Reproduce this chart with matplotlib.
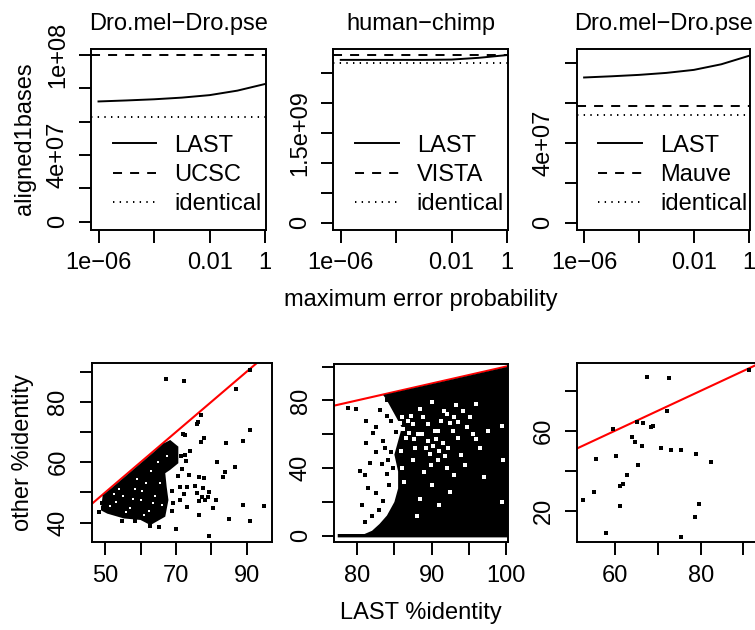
import matplotlib
matplotlib.use("Agg")
import matplotlib.pyplot as plt
from matplotlib.ticker import NullLocator

W, H = 755, 630
FS = 17

plt.rcParams.update({
    "font.family": ["Liberation Sans", "DejaVu Sans"],
    "font.size": FS,
    "lines.scale_dashes": False,
    "axes.linewidth": 1.4,
    "xtick.major.width": 1.4,
    "ytick.major.width": 1.4,
    "xtick.major.size": 9,
    "ytick.major.size": 9,
    "xtick.major.pad": 7,
    "ytick.major.pad": 7,
})

# ---- top row: aligned bases vs maximum error probability ----
err_prob = [1e-6, 1e-5, 1e-4, 1e-3, 1e-2, 1e-1, 1]

titles_top = ["Dro.mel\u2212Dro.pse", "human\u2212chimp", "Dro.mel\u2212Dro.pse"]
other_names = ["UCSC", "VISTA", "Mauve"]
last_bases = [
    [7.22e7, 7.28e7, 7.35e7, 7.45e7, 7.60e7, 7.87e7, 8.27e7],
    [2.72e9, 2.72e9, 2.72e9, 2.72e9, 2.725e9, 2.755e9, 2.80e9],
    [7.27e7, 7.33e7, 7.40e7, 7.50e7, 7.65e7, 7.93e7, 8.35e7],
]
other_bases = [1.0e8, 2.80e9, 5.85e7]
identical_bases = [6.3e7, 2.663e9, 5.39e7]

top_yticks = [
    [0, 2e7, 4e7, 6e7, 8e7, 1e8],
    [0, 5e8, 1e9, 1.5e9, 2e9, 2.5e9],
    [0, 2e7, 4e7, 6e7, 8e7],
]
top_ylabels = [
    ["0", "", "4e+07", "", "", "1e+08"],
    ["0", "", "", "1.5e+09", "", ""],
    ["0", "", "4e+07", "", ""],
]
top_ylims = [(-5e6, 1.04e8), (-1.2e8, 2.91e9), (-3.6e6, 8.72e7)]
top_xticks = [1e-6, 1e-4, 1e-2, 1]
top_xlabels = ["1e\u221206", "", "0.01", "1"]

# ---- bottom row: other %identity vs LAST %identity ----
b1_x = [67.2, 72.3, 91.0, 87.0, 77.1, 76.4, 76.1, 91.0, 88.9, 84.2, 78.0, 77.1,
        71.9, 74.0, 72.7, 81.6, 86.8, 84.0, 83.2, 71.8, 73.8, 76.6, 78.0, 71.2,
        73.1, 75.4, 77.6, 79.5, 72.3, 75.9, 77.3, 79.2, 81.4, 76.6, 78.2, 69.3,
        71.2, 73.1, 80.6, 76.6, 89.1, 95.0, 85.1, 91.0, 70.0, 79.5, 65.1, 54.7,
        48.4, 72.6, 49.2, 49.5, 69.0, 68.8, 70.6, 69.5, 62.8, 58.5, 71.5, 72.8]
b1_y = [87.5, 87.0, 90.6, 84.2, 75.7, 73.4, 72.7, 70.7, 67.2, 66.3, 67.9, 66.8,
        69.4, 63.8, 62.4, 60.2, 58.5, 56.9, 55.0, 57.7, 55.8, 55.2, 54.7, 51.9,
        51.9, 52.2, 51.4, 50.3, 49.5, 49.7, 48.6, 48.6, 47.5, 47.2, 47.5, 46.4,
        47.5, 45.3, 45.0, 42.5, 45.9, 45.6, 41.2, 40.6, 37.9, 35.7, 38.7, 40.6,
        43.6, 69.0, 46.5, 44.8, 44.0, 50.5, 55.5, 64.0, 39.0, 40.5, 62.0, 60.5]
# dense core of the Dro.mel-Dro.pse cloud (outline)
b1_core_x = [48.8, 49.3, 52.0, 56.0, 60.0, 64.0, 66.5, 68.4, 70.7, 70.7, 68.4,
             67.0, 67.4, 67.9, 67.0, 62.8, 60.0, 55.3, 50.6]
b1_core_y = [44.1, 49.0, 51.6, 55.6, 59.6, 63.6, 66.2, 67.4, 65.2, 59.7, 57.5,
             56.4, 51.9, 47.5, 42.0, 39.2, 40.9, 41.4, 43.0]
# gaps inside that cloud
b1_gap_x = [53.0, 55.0, 57.0, 58.5, 60.0, 61.5, 62.5, 64.0, 63.0, 65.0, 59.0,
            56.0, 54.0, 66.0, 61.0, 65.5, 51.5, 58.0, 63.5, 67.5, 52.5, 60.5]
b1_gap_y = [47.0, 49.0, 45.0, 51.0, 47.5, 53.0, 44.0, 49.0, 57.0, 60.0, 54.5,
            43.5, 51.0, 46.0, 42.5, 53.0, 45.5, 48.0, 46.5, 62.0, 49.5, 50.5]

b2_x = [78.75, 79.9, 81.2, 82.1, 81.2, 82.6, 80.4, 81.0, 81.5, 80.6, 81.0, 83.4,
        84.0, 82.6, 84.0, 83.1, 83.5, 83.5, 82.6, 81.7, 84.6, 85.2, 84.2, 84.3,
        83.8, 84.5, 84.0, 83.0, 84.8, 82.0, 83.2]
b2_y = [75.6, 74.7, 67.7, 60.7, 54.7, 49.3, 38.3, 35.9, 28.3, 18.0, 8.4, 42.3,
        36.3, 64.3, 80.2, 74.3, 56.3, 20.4, 25.3, 43.3, 49.3, 61.3, 45.0, 30.0,
        52.0, 68.0, 71.0, 15.0, 40.0, 12.0, 4.0]
# dense region of the human-chimp cloud (outline)
b2_core_x = [77.4, 77.4, 81.0, 82.0, 83.0, 84.0, 85.0, 85.5, 85.5, 85.0, 85.5,
             86.0, 85.0, 84.0, 83.5, 90.0, 95.0, 100.2, 100.2]
b2_core_y = [-0.9, 1.1, 1.1, 3.0, 7.0, 12.0, 20.0, 28.0, 38.0, 48.0, 56.0,
             64.0, 72.0, 80.0, 83.2, 89.6, 94.6, 99.8, -0.9]
# gaps inside that region
b2_gap_x = [86.0, 86.8, 87.5, 86.2, 87.0, 86.5, 87.6, 85.8, 87.2, 89.5, 90.2,
            91.0, 91.8, 90.6, 89.8, 91.5, 92.0, 93.0, 92.5, 93.6, 94.2, 88.5,
            90.0, 95.5, 96.5, 94.5, 93.0, 90.0, 88.5, 91.0, 88.0, 92.5, 97.0,
            99.5, 99.6, 99.5, 96.0, 89.0, 87.5, 86.0, 86.3, 85.9, 88.2, 90.8,
            88.8, 89.5, 90.5, 91.2, 92.8, 93.5, 92.2, 90.8, 89.2, 88.7, 91.6,
            93.2, 94.8, 95.2, 87.8, 89.9, 92.0, 94.0, 96.0, 97.5]
b2_gap_y = [70.0, 68.0, 66.0, 63.0, 61.0, 58.0, 57.0, 66.5, 71.0, 56.0, 53.0,
            50.0, 47.0, 57.0, 48.5, 55.0, 72.0, 70.0, 66.5, 67.5, 73.5, 75.0,
            79.0, 60.0, 52.0, 42.0, 36.0, 30.0, 22.0, 18.0, 12.0, 26.0, 35.0,
            65.0, 45.0, 20.0, 78.0, 38.0, 45.0, 40.0, 32.0, 50.0, 60.0, 62.0,
            70.0, 66.0, 62.0, 68.0, 62.0, 58.0, 52.0, 45.0, 52.0, 60.0, 74.0,
            77.0, 64.0, 70.0, 52.0, 42.0, 40.0, 48.0, 57.0, 62.0]

b3_x = [67.4, 72.5, 91.3, 72.1, 59.6, 65.2, 66.6, 68.3, 68.8, 64.0, 64.7, 66.2,
        70.8, 73.1, 75.5, 79.0, 82.5, 55.5, 60.3, 65.3, 62.9, 61.9, 61.1, 55.2,
        52.6, 61.2, 79.7, 78.8, 58.0, 75.4]
b3_y = [87.1, 86.5, 90.2, 70.1, 60.8, 64.2, 63.9, 62.0, 62.3, 56.7, 54.3, 52.5,
        51.6, 50.3, 50.3, 48.3, 44.3, 45.6, 47.3, 42.6, 37.6, 33.5, 32.2, 29.5,
        25.3, 22.5, 23.5, 16.8, 8.9, 6.9]

bot_xlims = [(46.2, 97.1), (76.9, 100.2), (51.05, 93.4)]
bot_ylims = [(33.5, 92.8), (-3.8, 101.5), (4.1, 93.8)]
bot_xticks = [[50, 60, 70, 80, 90], [80, 85, 90, 95, 100], [60, 70, 80, 90]]
bot_xlabels = [["50", "", "70", "", "90"], ["80", "", "90", "", "100"],
               ["60", "", "80", ""]]
bot_yticks = [[40, 50, 60, 70, 80, 90], [0, 20, 40, 60, 80, 100], [20, 40, 60, 80]]
bot_ylabels = [["40", "", "60", "", "80", ""], ["0", "", "40", "", "80", ""],
               ["20", "", "60", ""]]

fig = plt.figure(figsize=(W / 100, H / 100), dpi=100)


def box(l, r, t, b):
    """Axes placed by pixel edges of the plot frame."""
    return fig.add_axes([l / W, 1 - b / H, (r - l) / W, (b - t) / H])


def r_style(ax):
    ax.tick_params(top=False, right=False)
    for lab in ax.get_yticklabels():
        lab.set_rotation(90)
        lab.set_va("center")


top_boxes = [(91, 266, 48.5, 230), (333.3, 507.7, 48.5, 230), (576.7, 749.5, 48.5, 230)]
bot_boxes = [(91.7, 271.7, 363.3, 542.3), (334, 507.7, 364, 542.3), (576.7, 758, 363.3, 542.3)]

dash = (0, (6.5, 5.8))
dot = (0, (1.0, 3.8))
lw = 1.4

for i, (l, r, t, b) in enumerate(top_boxes):
    ax = box(l, r, t, b)
    ax.plot(err_prob, last_bases[i], color="black", lw=lw)
    ax.axhline(other_bases[i], color="black", lw=lw, linestyle=dash)
    ax.axhline(identical_bases[i], color="black", lw=lw, linestyle=dot)
    ax.set_xscale("log")
    ax.set_xlim(10 ** -6.27, 10 ** 0.03)
    ax.set_ylim(*top_ylims[i])
    ax.set_xticks(top_xticks, top_xlabels)
    ax.xaxis.set_minor_locator(NullLocator())
    ax.set_yticks(top_yticks[i], top_ylabels[i])
    ax.set_title(titles_top[i], fontsize=FS, pad=13.5)
    r_style(ax)

    # legend without frame, as in R's bty="n"
    w, h = r - l, b - t
    names = ["LAST", other_names[i], "identical"]
    styles = ["-", dash, dot]
    for k, (name, ls) in enumerate(zip(names, styles)):
        base = 103.2 + 29.4 * k
        yl = 1 - (base - 8.3) / h
        ax.plot([21.5 / w, 65.5 / w], [yl, yl], transform=ax.transAxes,
                color="black", lw=lw, linestyle=ls)
        ax.text(83.5 / w, 1 - base / h, name, transform=ax.transAxes,
                va="baseline", ha="left", fontsize=FS)

fig.text(25 / W, 1 - 139 / H, "aligned1bases", rotation=90, ha="center", va="center")
fig.text(420.5 / W, 1 - 300 / H, "maximum error probability", ha="center", va="center")

scatter_x = [b1_x, b2_x, b3_x]
scatter_y = [b1_y, b2_y, b3_y]
cores = [(b1_core_x, b1_core_y), (b2_core_x, b2_core_y), None]
gaps = [(b1_gap_x, b1_gap_y), (b2_gap_x, b2_gap_y), None]
gap_ms = [2.0, 2.8, 0]

for i, (l, r, t, b) in enumerate(bot_boxes):
    ax = box(l, r, t, b)
    x0, x1 = bot_xlims[i]
    ax.plot([x0 - 5, x1 + 5], [x0 - 5, x1 + 5], color="red", lw=1.5, zorder=2)
    if cores[i] is not None:
        ax.fill(cores[i][0], cores[i][1], color="black", lw=0, zorder=3)
        ax.plot(gaps[i][0], gaps[i][1], "s", color="white", ms=gap_ms[i], mew=0, zorder=4)
    ax.plot(scatter_x[i], scatter_y[i], "s", color="black", ms=2.2, mew=0, zorder=5)
    ax.set_xlim(*bot_xlims[i])
    ax.set_ylim(*bot_ylims[i])
    ax.set_xticks(bot_xticks[i], bot_xlabels[i])
    ax.set_yticks(bot_yticks[i], bot_ylabels[i])
    r_style(ax)

fig.text(23.3 / W, 1 - 452.8 / H, "other %identity", rotation=90, ha="center", va="center")
fig.text(420.8 / W, 1 - 613 / H, "LAST %identity", ha="center", va="center")

fig.savefig("out.png", dpi=100)
